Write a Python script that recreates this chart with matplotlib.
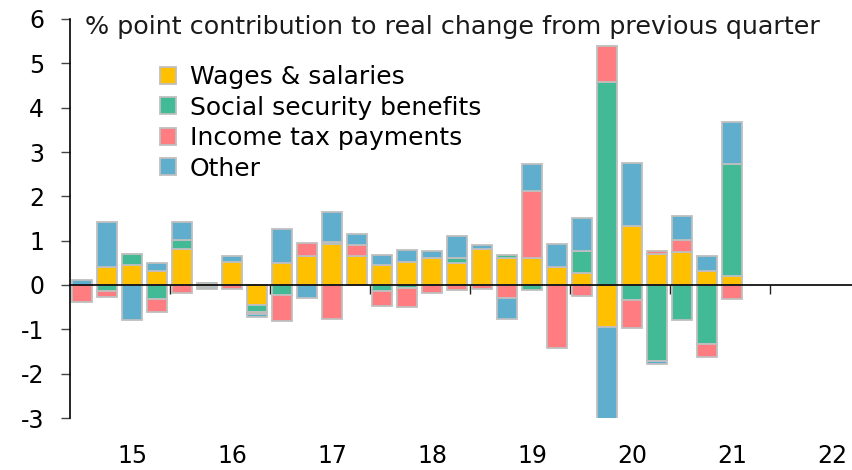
import matplotlib
matplotlib.use('Agg')
import matplotlib.pyplot as plt
import numpy as np
from matplotlib.patches import Patch

# 2015Q1 .. 2021Q3
quarters = [f"{y}Q{q}" for y in range(2015, 2022) for q in range(1, 5)][:27]
year_labels = ['15', '16', '17', '18', '19', '20', '21', '22']

wages = [0.00, 0.40, 0.44, 0.32, 0.81, 0.04, 0.51, -0.44, 0.49, 0.66,
         0.92, 0.66, 0.46, 0.53, 0.62, 0.49, 0.81, 0.62, 0.60, 0.41,
         0.27, -0.95, 1.32, 0.70, 0.75, 0.31, 0.20]
social = [0.00, -0.13, 0.26, -0.32, 0.21, -0.04, 0.00, -0.17, -0.22, 0.00,
          0.06, 0.00, -0.13, -0.06, 0.00, 0.11, 0.00, 0.05, -0.11, 0.00,
          0.49, 4.59, -0.34, -1.71, -0.80, -1.32, 2.53]
tax = [-0.38, -0.15, 0.00, -0.30, -0.19, 0.00, -0.08, -0.05, -0.60, 0.29,
       -0.77, 0.25, -0.35, -0.44, -0.17, -0.11, -0.10, -0.30, 1.51, -1.43,
       -0.24, 0.81, -0.63, 0.07, 0.27, -0.31, -0.32]
other = [0.12, 1.01, -0.80, 0.17, 0.39, -0.06, 0.14, -0.07, 0.77, -0.29,
         0.67, 0.24, 0.22, 0.27, 0.14, 0.51, 0.09, -0.47, 0.62, 0.51,
         0.75, -2.12, 1.43, -0.07, 0.54, 0.35, 0.95]

series = [
    ("Wages & salaries", wages, "#FFC000"),
    ("Social security benefits", social, "#42BA95"),
    ("Income tax payments", tax, "#FF7C80"),
    ("Other", other, "#5FAECE"),
]

plt.rcParams['font.family'] = ['DejaVu Sans']
fig = plt.figure(figsize=(8.52, 4.70), dpi=100)
ax = fig.add_axes([70/852, 52/470, 1 - 70/852, (418-19)/470])

x = np.arange(len(quarters))
pos = np.zeros(len(x))
neg = np.zeros(len(x))
handles = []
for name, vals, col in series:
    v = np.array(vals, dtype=float)
    bottom = np.where(v >= 0, pos, neg)
    ax.bar(x, v, bottom=bottom, width=0.8, color=col,
           edgecolor='#BFBFBF', linewidth=1.3, zorder=2)
    pos = pos + np.where(v >= 0, v, 0)
    neg = neg + np.where(v < 0, v, 0)
    handles.append(Patch(facecolor=col, edgecolor='#BFBFBF', linewidth=1.3, label=name))

ax.set_xlim(-0.5, 30.8)
ax.set_ylim(-3, 6)

for s in ['top', 'right']:
    ax.spines[s].set_visible(False)
ax.spines['bottom'].set_position(('data', 0))
ax.spines['bottom'].set_linewidth(1.2)
ax.spines['bottom'].set_zorder(3)
ax.spines['left'].set_linewidth(1.2)

ax.set_yticks(range(-3, 7))
ax.set_yticklabels([str(v) for v in range(-3, 7)])
ax.tick_params(axis='y', direction='out', length=6.5, width=1, color='#444444',
               labelsize=17, pad=12)

ax.set_xticks([3.5 + 4 * k for k in range(7)])
ax.set_xticklabels([])
ax.tick_params(axis='x', direction='out', length=6.5, width=1, color='#222222')

sec = ax.secondary_xaxis('bottom')
sec.set_xticks([2 + 4 * k for k in range(len(year_labels))])
sec.set_xticklabels(year_labels)
sec.tick_params(length=0, labelsize=17, pad=19)
sec.spines['bottom'].set_visible(False)

fig.text(85/852, 1 - 27/470, "% point contribution to real change from previous quarter",
         fontsize=18.3, va='center', ha='left', color='#1a1a1a')

leg = fig.legend(handles=handles, loc='upper left', bbox_to_anchor=(160/852, 1 - 65/470),
                 frameon=False, fontsize=18, handlelength=0.65, handleheight=0.65,
                 handletextpad=0.55, labelspacing=0.26, borderpad=0, borderaxespad=0)

fig.savefig('out.png', dpi=100)
